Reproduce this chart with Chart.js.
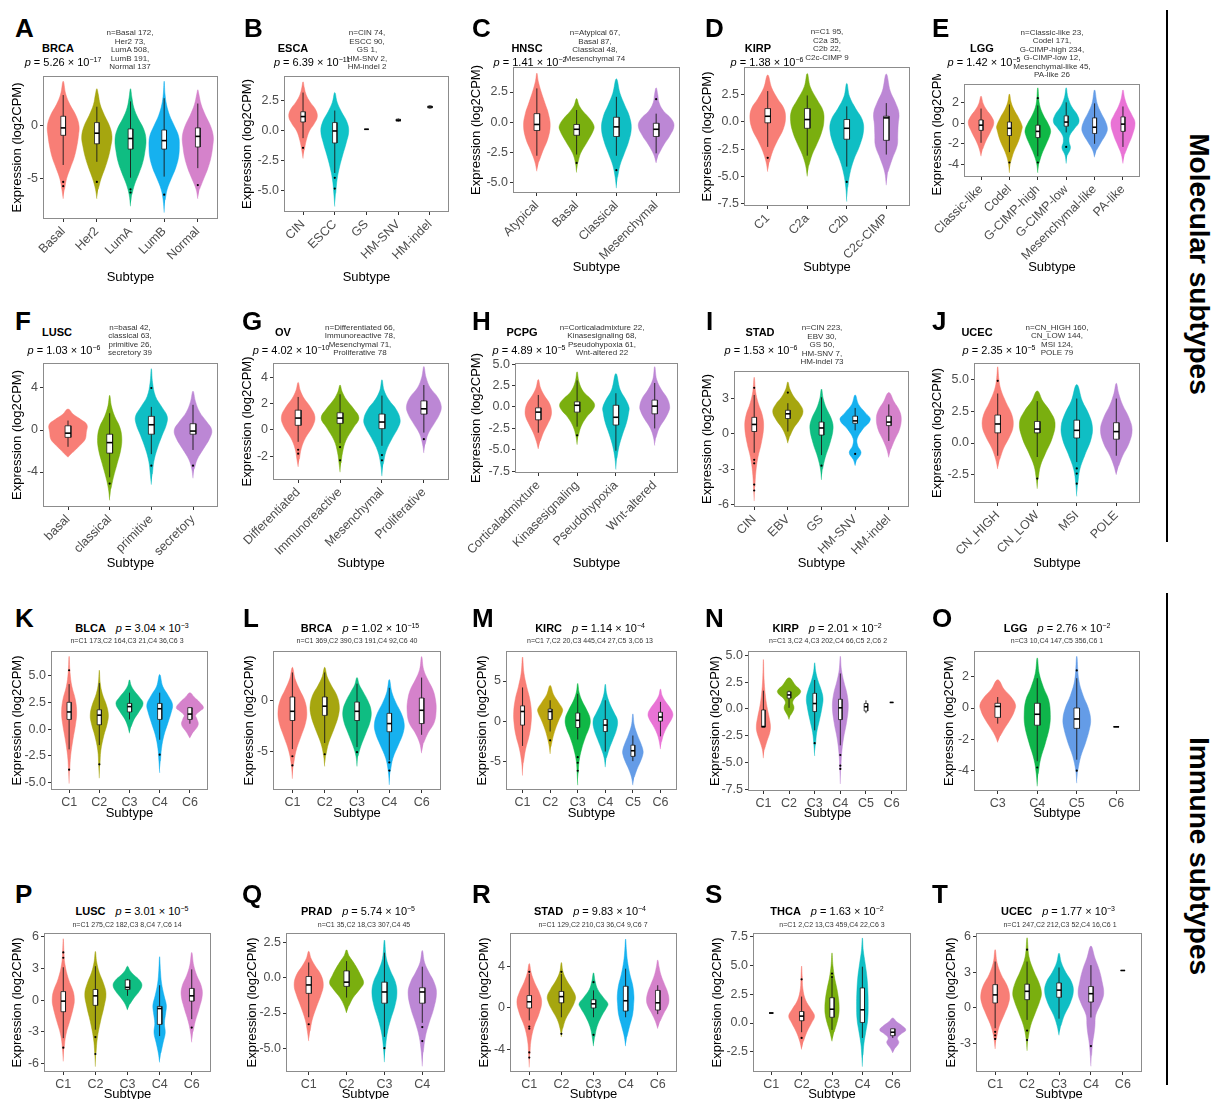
<!DOCTYPE html>
<html lang="en">
<head>
<meta charset="UTF-8">
<title>Expression by subtype</title>
<script src="https://cdn.jsdelivr.net/npm/chart.js"></script>
<style>
  body { margin: 0; background: #fff; font-family: "Liberation Sans", Arial, sans-serif; }
  #fig { position: relative; width: 1212px; height: 1099px; overflow: hidden; }
  canvas { position: absolute; }
  .lab { position: absolute; transform: translate(-50%, -50%); white-space: nowrap; color: #000; z-index: 2; }
  .letter { position: absolute; font-weight: bold; font-size: 26px; line-height: 26px; z-index: 2; }
  .nm { font-weight: bold; font-size: 11px; }
  .pv { font-size: 11px; }
  sup { font-size: 7px; line-height: 0; vertical-align: 4px; }
  .nb { font-size: 8px; line-height: 8.5px; text-align: center; color: #333; }
  .n1 { font-size: 7px; color: #333; }
  .vline { position: absolute; left: 1166px; width: 2px; background: #000; }
  .side { position: absolute; font-weight: bold; font-size: 28px; white-space: nowrap;
          transform: translate(-50%, -50%) rotate(90deg); }
</style>
</head>
<body>
<div id="fig"></div>

<script>
// ---------- data: categories, boxes [whiskerLo, q1, median, q3, whiskerHi],
// violin outlines [value, full width], outliers, y ticks ----------

const A_cats = ['Basal', 'Her2', 'LumA', 'LumB', 'Normal'];
const A_box = [[-3.7,-0.9,-0.2,0.9,2.9], [-3.4,-1.7,-0.7,0.3,1.8], [-4.9,-2.2,-1.2,-0.3,2.3], [-4.8,-2.2,-1.4,-0.4,2.6], [-4.0,-2.0,-1.0,-0.2,2.1]];
const A_vio = [
  [[-6.9,0],[-6,.08],[-5,.2],[-4,.42],[-3,.65],[-2,.8],[-1,.9],[0,.94],[1,.75],[2,.4],[3,.15],[4.2,0]],
  [[-6.9,0],[-6,.08],[-5,.25],[-4,.48],[-3,.68],[-2,.82],[-1,.9],[0,.75],[1,.45],[2,.2],[3,.08],[3.5,0]],
  [[-7.6,0],[-6.5,.08],[-5.5,.25],[-4.5,.5],[-3.5,.72],[-2.5,.85],[-1.3,.92],[-0.3,.78],[0.7,.45],[1.7,.2],[2.7,.08],[3.5,0]],
  [[-8.2,0],[-7,.06],[-6,.18],[-5,.42],[-4,.68],[-3,.85],[-2,.9],[-1,.86],[0,.6],[1,.32],[2,.14],[3,.05],[4.2,0]],
  [[-6.9,0],[-6,.1],[-5,.35],[-4,.6],[-3,.78],[-2,.88],[-1,.92],[0,.75],[1,.45],[2,.2],[3,.06],[3.4,0]]];
const A_out = [[-5.3,-5.7], [-5.3], [-6.0,-6.3], [-6.5], [-5.6]];
const A_yt = [-5, 0];

const B_cats = ['CIN', 'ESCC', 'GS', 'HM-SNV', 'HM-indel'];
const B_box = [[-0.6,0.75,1.2,1.6,3.2], [-3.5,-1.0,0,0.7,1.7], [0.14,0.14,0.14,0.14,0.14], [0.75,0.82,0.9,0.98,1.05], [1.85,1.92,2.0,2.08,2.15]];
const B_vio = [
  [[-2.3,0],[-1.6,.08],[-0.8,.2],[0,.4],[0.6,.7],[1.2,.9],[1.8,.78],[2.4,.45],[3,.2],[3.6,.08],[4.1,0]],
  [[-6.3,0],[-5.2,.06],[-4,.15],[-3,.3],[-2,.5],[-1,.72],[0,.88],[0.8,.75],[1.6,.42],[2.4,.15],[3.2,0]],
  null, null, null];
const B_out = [[-1.4], [-3.9,-4.8], [], [], []];
const B_yt = [-5, -2.5, 0, 2.5];

const C_cats = ['Atypical', 'Basal', 'Classical', 'Mesenchymal'];
const C_box = [[-2.8,-0.7,-0.2,0.7,2.8], [-2.7,-1.1,-0.6,-0.2,1.0], [-2.8,-1.2,-0.4,0.4,2.1], [-2.6,-1.2,-0.6,-0.1,0.7]];
const C_vio = [
  [[-4.1,0],[-3.3,.1],[-2.4,.3],[-1.4,.55],[-0.3,.67],[0.7,.58],[1.6,.4],[2.6,.2],[3.4,.07],[4.07,0]],
  [[-4.2,0],[-3.4,.06],[-2.6,.2],[-1.6,.55],[-0.7,.84],[-0.3,.87],[0.3,.65],[0.9,.32],[1.4,.12],[1.95,0]],
  [[-5.5,0],[-4.6,.06],[-3.6,.18],[-2.6,.4],[-1.6,.62],[-0.5,.75],[0.5,.65],[1.4,.42],[2.4,.18],[3.6,0]],
  [[-3.4,0],[-2.7,.12],[-1.9,.38],[-1.1,.7],[-0.3,.9],[0.3,.75],[0.9,.38],[1.6,.15],[2.3,.08],[2.85,0]]];
const C_out = [[], [-3.4], [-4.0], [1.9]];
const C_yt = [-5, -2.5, 0, 2.5];

const D_cats = ['C1', 'C2a', 'C2b', 'C2c-CIMP'];
const D_box = [[-2.3,-0.1,0.5,1.2,2.8], [-3.1,-0.6,0.2,1.2,2.4], [-4.1,-1.6,-0.6,0.2,1.4], [-3.0,-1.7,0.35,0.5,1.7]];
const D_vio = [
  [[-4.57,0],[-3.7,.08],[-2.7,.25],[-1.7,.5],[-0.7,.78],[0.3,.9],[1.2,.82],[2.1,.5],[3.1,.2],[4.27,0]],
  [[-5,0],[-4,.08],[-3,.25],[-2,.5],[-1,.72],[0,.84],[1,.8],[2,.5],[3.2,.15],[4.4,0]],
  [[-7.3,0],[-6,.05],[-4.8,.15],[-3.5,.35],[-2.2,.65],[-0.8,.85],[0.2,.78],[1.2,.45],[2.3,.14],[3.5,0]],
  [[-5.8,0],[-4.6,.08],[-3.4,.3],[-2.2,.55],[-1.2,.58],[-0.3,.6],[0.8,.64],[1.8,.45],[2.8,.2],[4.36,0]]];
const D_out = [[-3.3], [], [-5.5], []];
const D_yt = [-7.5, -5, -2.5, 0, 2.5];

const E_cats = ['Classic-like', 'Codel', 'G-CIMP-high', 'G-CIMP-low', 'Mesenchymal-like', 'PA-like'];
const E_box = [[-1.9,-0.7,-0.2,0.3,1.4], [-2.8,-1.2,-0.5,0.1,1.8], [-3.2,-1.4,-0.8,-0.2,1.7], [-0.9,-0.3,0.1,0.7,2.0], [-2.0,-1.0,-0.4,0.5,1.9], [-2.3,-0.8,-0.1,0.6,1.6]];
const E_vio = [
  [[-3.2,0],[-2.5,.12],[-1.7,.35],[-0.8,.68],[0,.9],[0.6,.75],[1.3,.38],[1.9,.15],[2.6,0]],
  [[-4.8,0],[-3.8,.08],[-2.8,.3],[-1.7,.65],[-0.6,.88],[-0.3,.9],[0.5,.65],[1.3,.32],[2,.12],[2.8,0]],
  [[-4.8,0],[-3.9,.08],[-3,.28],[-2,.6],[-1.2,.84],[-0.7,.9],[0,.7],[0.8,.38],[1.8,.12],[3.4,0]],
  [[-3.9,0],[-3.1,.08],[-2.4,.3],[-1.8,.2],[-1.2,.25],[-0.5,.6],[0.1,.9],[0.8,.78],[1.6,.38],[2.5,.12],[3.4,0]],
  [[-3.3,0],[-2.6,.14],[-1.8,.48],[-1,.82],[-0.5,.9],[0.2,.75],[1,.45],[1.9,.18],[3.2,0]],
  [[-3.9,0],[-3,.12],[-2.2,.35],[-1.2,.65],[0,.85],[0.8,.62],[1.6,.32],[2.4,.12],[3.2,0]]];
const E_out = [[], [-3.8], [-3.8,2.4], [-2.3], [], []];
const E_yt = [-4, -2, 0, 2];

const F_cats = ['basal', 'classical', 'primitive', 'secretory'];
const F_box = [[-1.6,-0.7,-0.3,0.4,0.9], [-4.5,-2.2,-1.2,-0.4,1.6], [-2.3,-0.4,0.5,1.3,2.2], [-1.9,-0.4,-0.1,0.6,2.4]];
const F_vio = [
  [[-2.6,0],[-2.1,.25],[-1.5,.55],[-0.9,.82],[-0.2,.88],[0.5,.91],[1.0,.62],[1.5,.25],[2.0,0]],
  [[-6.7,0],[-5.6,.06],[-4.5,.18],[-3.2,.36],[-1.8,.54],[-0.7,.58],[0.3,.48],[1.3,.24],[2.3,.08],[3.3,0]],
  [[-5.2,0],[-4.2,.05],[-3,.12],[-1.8,.28],[-0.5,.52],[0.5,.72],[1.3,.76],[2.2,.5],[3.2,.2],[4.5,.06],[5.84,0]],
  [[-4.6,0],[-3.7,.06],[-2.8,.2],[-1.8,.5],[-0.8,.8],[0,.9],[0.8,.65],[1.7,.32],[2.7,.12],[3.7,0]]];
const F_out = [[], [-5.1], [-3.4,4.0], [-3.4]];
const F_yt = [-4, 0, 4];

const G_cats = ['Differentiated', 'Immunoreactive', 'Mesenchymal', 'Proliferative'];
const G_box = [[-0.9,0.35,0.9,1.5,2.5], [-1.0,0.5,0.9,1.3,2.7], [-1.2,0.1,0.6,1.2,2.6], [-0.2,1.2,1.6,2.2,3.4]];
const G_vio = [
  [[-2.8,0],[-2.2,.06],[-1.4,.15],[-0.6,.35],[0.3,.7],[1,.8],[1.7,.6],[2.4,.28],[3,.1],[3.6,0]],
  [[-3.2,0],[-2.5,.05],[-1.7,.12],[-0.8,.28],[0.2,.65],[0.9,.9],[1.6,.65],[2.3,.3],[2.9,.1],[3.4,0]],
  [[-3.5,0],[-2.6,.06],[-1.6,.2],[-0.6,.5],[0.2,.78],[0.75,.87],[1.5,.7],[2.3,.32],[3,.1],[3.8,0]],
  [[-1.75,0],[-1.1,.06],[-0.3,.2],[0.5,.5],[1.2,.75],[1.8,.83],[2.5,.65],[3.2,.3],[4,.1],[4.8,0]]];
const G_out = [[-1.5,-1.8], [-1.3,-2.3], [-1.9,-2.3], [-0.7]];
const G_yt = [-2, 0, 2, 4];

const H_cats = ['Corticaladmixture', 'Kinasesignaling', 'Pseudohypoxia', 'Wnt-altered'];
const H_box = [[-3.0,-1.5,-0.6,-0.1,1.4], [-2.3,-0.6,0.2,0.6,3.1], [-5.1,-2.1,-1.2,0.2,1.6], [-2.5,-0.8,0.1,0.8,2.8]];
const H_vio = [
  [[-4.9,0],[-4,.1],[-3,.26],[-2,.48],[-1.2,.64],[-0.5,.68],[0.4,.58],[1.3,.32],[2.2,.12],[3.2,0]],
  [[-4.4,0],[-3.4,.06],[-2.3,.2],[-1.2,.48],[-0.3,.82],[0.3,.9],[0.9,.72],[1.8,.32],[2.9,.1],[4.1,0]],
  [[-7.3,0],[-6,.05],[-4.6,.16],[-3.2,.34],[-1.8,.55],[-0.6,.66],[-0.1,.68],[0.8,.52],[2,.22],[3.9,0]],
  [[-4.5,0],[-3.6,.06],[-2.5,.22],[-1.3,.55],[-0.4,.74],[0.1,.77],[1,.65],[2,.35],[3.2,.1],[4.7,0]]];
const H_out = [[], [-3.3], [], []];
const H_yt = [-7.5, -5, -2.5, 0, 2.5, 5];

const I_cats = ['CIN', 'EBV', 'GS', 'HM-SNV', 'HM-indel'];
const I_box = [[-1.6,0.2,0.8,1.4,3.3], [0.2,1.3,1.7,2.0,2.6], [-1.8,-0.1,0.5,1.0,3.1], [0.3,0.9,1.1,1.5,2.2], [-0.6,0.7,1.0,1.5,2.5]];
const I_vio = [
  [[-5.7,0],[-4.5,.04],[-3.2,.1],[-2,.22],[-0.8,.42],[0.6,.56],[1.6,.48],[2.6,.24],[3.6,.08],[4.8,0]],
  [[-0.8,0],[-0.2,.12],[0.5,.35],[1.2,.7],[1.9,.9],[2.5,.72],[3.1,.38],[3.8,.12],[4.4,0]],
  [[-3.9,0],[-3,.06],[-2,.22],[-0.8,.5],[0.5,.69],[1.3,.58],[2.2,.28],[3,.1],[3.8,0]],
  [[-2.7,0],[-2.2,.1],[-1.6,.35],[-1.0,.15],[-0.4,.12],[0.4,.45],[1.2,.9],[1.8,.6],[2.5,.2],[3.3,0]],
  [[-2,0],[-1.3,.12],[-0.5,.35],[0.4,.64],[1.3,.74],[2,.62],[2.7,.32],[3.5,0]]];
const I_out = [[-2.2,-2.5,-4.3,-4.8,3.9], [3.5], [-2.7], [-1.7], []];
const I_yt = [-6, -3, 0, 3];

const J_cats = ['CN_HIGH', 'CN_LOW', 'MSI', 'POLE'];
const J_box = [[-1.0,0.8,1.5,2.2,3.9], [-1.1,0.8,1.1,1.7,3.3], [-1.5,0.4,1.0,1.8,3.5], [-1.0,0.3,0.9,1.6,3.5]];
const J_vio = [
  [[-2.05,0],[-1.3,.1],[-0.4,.3],[0.5,.6],[1.3,.78],[2.2,.72],[3.2,.42],[4.2,.16],[5,.06],[6,0]],
  [[-3.6,0],[-2.8,.05],[-1.8,.16],[-0.8,.42],[0.4,.76],[1.6,.9],[2.5,.65],[3.3,.28],[4.1,0]],
  [[-4.2,0],[-3.2,.05],[-2.1,.15],[-0.9,.42],[0.3,.72],[1.3,.79],[2.3,.6],[3.3,.28],[4.6,0]],
  [[-2.5,0],[-1.8,.12],[-1,.32],[0,.65],[1.05,.8],[2,.64],[3,.32],[3.9,.12],[4.7,0]]];
const J_out = [[4.9], [-2.8], [-2.0,-2.4,-3.2], []];
const J_yt = [-2.5, 0, 2.5, 5];

const K_cats = ['C1', 'C2', 'C3', 'C4', 'C6'];
const K_box = [[-1.9,0.9,1.6,2.5,4.2], [-1.5,0.4,1.3,1.8,4.3], [0.9,1.6,2.1,2.4,3.4], [-1.0,0.9,1.9,2.4,3.4], [0.5,0.9,1.4,2.0,2.0]];
const K_vio = [
  [[-5.1,0],[-3.8,.04],[-2.5,.1],[-1,.25],[0.4,.42],[1.5,.5],[2.7,.42],[4,.18],[5.3,.06],[6.8,0]],
  [[-4.6,0],[-3.4,.04],[-2,.1],[-0.6,.3],[0.5,.52],[1.3,.6],[2.2,.48],[3.3,.2],[4.3,.06],[5.5,0]],
  [[-0.4,0],[0.2,.1],[0.9,.3],[1.6,.62],[2.4,.9],[3,.65],[3.6,.3],[4.1,.1],[4.6,0]],
  [[-4.1,0],[-3,.05],[-1.8,.12],[-0.6,.28],[0.6,.55],[1.5,.75],[2.3,.85],[3.1,.58],[4,.2],[5.1,0]],
  [[-0.85,0],[-0.3,.22],[0.4,.55],[1,.45],[1.3,.38],[1.7,.68],[2.0,.9],[2.5,.65],[3,.28],[3.4,0]]];
const K_out = [[5.5,-3.8], [-3.3], [], [-2.4], []];
const K_yt = [-5, -2.5, 0, 2.5, 5];

const L_cats = ['C1', 'C2', 'C3', 'C4', 'C6'];
const L_box = [[-4.8,-2.0,-1.1,0.3,2.7], [-4.2,-1.5,-0.6,0.3,2.7], [-4.6,-2.0,-1.1,-0.2,1.6], [-5.9,-3.1,-2.3,-1.3,1.2], [-3.4,-2.3,-1.0,0.2,2.2]];
const L_vio = [
  [[-7.7,0],[-6.4,.06],[-5,.22],[-3.6,.52],[-2.2,.82],[-1.1,.89],[0,.75],[1,.45],[2.1,.16],[3.2,0]],
  [[-6.5,0],[-5.4,.07],[-4.2,.24],[-2.8,.58],[-1.5,.85],[-0.5,.9],[0.5,.74],[1.4,.42],[2.3,.15],[3.2,0]],
  [[-6.5,0],[-5.5,.06],[-4.5,.24],[-3.2,.56],[-2,.83],[-1,.87],[-0.1,.68],[0.8,.38],[1.5,.14],[2.2,0]],
  [[-8.3,0],[-7,.06],[-5.7,.22],[-4.4,.56],[-3.2,.86],[-2.3,.92],[-1.3,.74],[-0.3,.42],[0.8,.15],[2,0]],
  [[-5.2,0],[-4.2,.12],[-3.2,.4],[-2.2,.78],[-1,.9],[0,.86],[1,.7],[2,.38],[3,.12],[4.25,0]]];
const L_out = [[-5.5,-6.4], [-5.3], [-5.1], [-6.1,-6.9], []];
const L_yt = [-5, 0];

const M_cats = ['C1', 'C2', 'C3', 'C4', 'C5', 'C6'];
const M_box = [[-3.1,-0.5,1.2,1.9,4.2], [-1.3,0.2,1.2,1.5,2.6], [-2.3,-0.8,0.1,1.0,3.4], [-3.8,-1.3,-0.5,0.2,2.6], [-5.0,-4.4,-3.7,-3.0,-1.8], [-1.9,0,0.5,1.1,2.4]];
const M_vio = [
  [[-6.8,0],[-5.2,.06],[-3.5,.22],[-1.8,.48],[-0.2,.62],[1.2,.64],[2.8,.52],[4.3,.3],[6,.1],[8,0]],
  [[-4.1,0],[-3.2,.06],[-2.2,.18],[-1,.38],[0.2,.65],[1,.86],[1.5,.9],[2.3,.62],[3.3,.25],[4.45,0]],
  [[-8,0],[-6.5,.04],[-5,.1],[-3.5,.28],[-2,.56],[-0.7,.85],[0.3,.9],[1.3,.68],[2.5,.32],[3.6,.1],[4.7,0]],
  [[-5.75,0],[-4.6,.08],[-3.5,.28],[-2.3,.55],[-1,.82],[0.1,.88],[1,.65],[2.2,.32],[3.4,.1],[4.6,0]],
  [[-8,0],[-7,.1],[-6,.3],[-5,.56],[-4.2,.72],[-3.7,.74],[-2.8,.58],[-1.7,.32],[-0.5,.1],[0.9,0]],
  [[-3.5,0],[-2.6,.08],[-1.6,.24],[-0.5,.55],[0.3,.82],[0.9,.9],[1.6,.72],[2.4,.38],[3.2,.12],[4,0]]];
const M_out = [[], [-2.4], [-4.5,-5.2,-6.2], [], [], []];
const M_yt = [-5, 0, 5];

const N_cats = ['C1', 'C2', 'C3', 'C4', 'C5', 'C6'];
const N_box = [[-1.7,-1.7,-1.65,-0.1,1.7], [0.1,1.0,1.3,1.6,1.7], [-2.0,-0.25,0.5,1.45,2.7], [-3.4,-1.0,0.1,0.9,3.3], [-0.4,-0.2,0.2,0.5,0.8], [0.6,0.6,0.6,0.6,0.6]];
const N_vio = [
  [[-4.6,0],[-3.8,.08],[-3,.28],[-2.2,.5],[-1.6,.55],[-0.8,.45],[0.2,.28],[1.4,.14],[2.8,.05],[4.6,0]],
  [[-1,0],[-0.6,.12],[-0.1,.35],[0.2,.38],[0.6,.28],[1.0,.45],[1.4,.82],[1.7,.9],[2.2,.5],[2.9,0]],
  [[-4.4,0],[-3.4,.06],[-2.2,.16],[-1,.38],[0.2,.58],[1,.65],[1.8,.5],[2.7,.24],[3.5,.08],[4.3,0]],
  [[-7,0],[-5.6,.04],[-4.2,.1],[-2.8,.24],[-1.3,.48],[0.2,.62],[1.4,.52],[2.6,.26],[3.7,.08],[4.9,0]],
  null, null];
const N_out = [[], [], [-3.2], [-4.3,-5.3,-5.6], [], []];
const N_yt = [-7.5, -5, -2.5, 0, 2.5, 5];

const O_cats = ['C3', 'C4', 'C5', 'C6'];
const O_box = [[-1.0,-0.6,0.1,0.3,0.7], [-3.4,-1.1,-0.4,0.3,1.9], [-3.3,-1.3,-0.7,0,1.9], [-1.2,-1.2,-1.2,-1.2,-1.2]];
const O_vio = [
  [[-2.2,0],[-1.8,.12],[-1.3,.35],[-0.7,.65],[-0.2,.84],[0.2,.9],[0.7,.68],[1.2,.32],[1.8,0]],
  [[-5,0],[-4.2,.05],[-3.3,.16],[-2.2,.42],[-1.2,.62],[-0.4,.66],[0.5,.58],[1.3,.32],[2.2,.1],[3.2,0]],
  [[-4.8,0],[-4,.05],[-3.1,.2],[-2.2,.45],[-1.3,.65],[-0.7,.7],[0,.58],[0.8,.32],[1.8,.1],[3.3,0]],
  null];
const O_out = [[], [-3.8], [2.4,-4.0], []];
const O_yt = [-4, -2, 0, 2];

const P_cats = ['C1', 'C2', 'C3', 'C4', 'C6'];
const P_box = [[-3.6,-1.1,-0.1,0.8,3.1], [-2.8,-0.5,0.4,1.0,3.2], [0.4,1.0,1.2,1.9,2.0], [-3.4,-2.3,-0.8,-0.6,1.4], [-1.8,-0.1,0.4,1.1,2.9]];
const P_vio = [
  [[-5.8,0],[-4.6,.05],[-3.3,.16],[-1.8,.44],[-0.6,.64],[0,.69],[0.8,.62],[2,.32],[3.4,.1],[4.6,.04],[5.8,0]],
  [[-6.3,0],[-5,.04],[-3.6,.12],[-2,.32],[-0.6,.54],[0.6,.66],[1.6,.5],[2.6,.24],[3.6,.08],[4.6,0]],
  [[-0.95,0],[-0.4,.14],[0.2,.4],[0.8,.72],[1.4,.9],[1.9,.74],[2.4,.38],[2.8,.15],[3.2,0]],
  [[-5.9,0],[-5,.08],[-4,.22],[-3.1,.35],[-2.2,.3],[-1.2,.38],[-0.5,.42],[0.4,.28],[1.6,.12],[2.8,.05],[4.1,0]],
  [[-4,0],[-3,.08],[-2,.22],[-0.8,.46],[0.5,.66],[1.4,.58],[2.3,.32],[3.3,.12],[4.5,0]]];
const P_out = [[4.5,4.0,-4.5], [-3.5,-5.1], [], [], [-2.6]];
const P_yt = [-6, -3, 0, 3, 6];

const Q_cats = ['C1', 'C2', 'C3', 'C4'];
const Q_box = [[-2.8,-1.1,-0.5,0.1,1.1], [-1.4,-0.6,-0.3,0.5,1.2], [-4.2,-1.8,-1.0,-0.3,1.8], [-3.2,-1.8,-1.0,-0.7,0.8]];
const Q_vio = [
  [[-4.5,0],[-3.8,.07],[-3,.18],[-2.1,.4],[-1.2,.65],[-0.5,.77],[0.2,.65],[0.9,.32],[1.4,.12],[1.9,0]],
  [[-2.5,0],[-2,.12],[-1.4,.35],[-0.8,.7],[-0.35,.9],[0.2,.74],[0.7,.55],[1.2,.32],[1.6,.12],[2.0,0]],
  [[-6,0],[-5,.05],[-4,.14],[-3,.32],[-2,.55],[-1.1,.66],[-0.3,.58],[0.5,.32],[1.4,.1],[2.7,0]],
  [[-6.3,0],[-5.3,.05],[-4.2,.16],[-3.2,.36],[-2.2,.6],[-1.05,.75],[-0.3,.62],[0.4,.35],[1.1,.12],[1.95,0]]];
const Q_out = [[-3.3], [], [-5.0], [-3.5,-4.5]];
const Q_yt = [-5, -2.5, 0, 2.5];

const R_cats = ['C1', 'C2', 'C3', 'C4', 'C6'];
const R_box = [[-1.2,0,0.6,1.2,3.3], [-0.9,0.5,1.1,1.6,3.3], [-0.9,0,0.4,0.8,1.7], [-0.9,-0.3,0.7,2.1,3.8], [-0.6,-0.2,0.5,1.7,2.2]];
const R_vio = [
  [[-5.75,0],[-4.5,.04],[-3.2,.1],[-1.8,.3],[-0.5,.62],[0.6,.77],[1.5,.62],[2.5,.32],[3.4,.12],[4.3,0]],
  [[-2.8,0],[-2,.08],[-1.1,.26],[-0.2,.58],[0.5,.8],[1.1,.88],[1.8,.68],[2.7,.32],[3.5,.1],[4.4,0]],
  [[-3.7,0],[-2.8,.08],[-1.8,.22],[-0.8,.5],[0,.8],[0.4,.9],[1,.62],[1.8,.26],[2.6,.1],[3.4,0]],
  [[-3.7,0],[-2.8,.08],[-1.8,.24],[-0.6,.44],[0.4,.5],[1.1,.52],[2.2,.44],[3.3,.26],[4.5,.12],[5.6,.05],[6.67,0]],
  [[-2,0],[-1.3,.14],[-0.5,.38],[0.2,.62],[0.75,.7],[1.5,.62],[2.3,.42],[3.2,.2],[4,.08],[4.65,0]]];
const R_out = [[-1.8,-2.0,-4.3,-4.8,3.5], [-2.5,3.5], [-2.6,2.5], [], []];
const R_yt = [-4, 0, 4];

const S_cats = ['C1', 'C2', 'C3', 'C4', 'C6'];
const S_box = [[0.87,0.87,0.87,0.87,0.87], [-0.8,0.2,0.6,1.0,2.3], [-0.6,0.5,1.2,2.2,3.9], [-1.3,0.05,1.15,3.05,4.9], [-1.3,-1.1,-0.8,-0.5,-0.5]];
const S_vio = [
  null,
  [[-2.3,0],[-1.6,.12],[-0.8,.34],[0,.65],[0.6,.85],[1.2,.62],[2,.26],[3,.08],[4,.04],[4.95,0]],
  [[-1.6,0],[-0.8,.14],[0,.32],[0.7,.44],[1.2,.47],[2,.44],[3,.32],[4,.16],[5,.06],[6.1,0]],
  [[-3.8,0],[-2.8,.04],[-1.8,.1],[-0.8,.22],[0.3,.35],[1.5,.38],[2.8,.36],[4,.3],[5.2,.18],[6.3,.06],[7.4,0]],
  [[-2.6,0],[-2.2,.15],[-1.7,.4],[-1.3,.3],[-0.9,.6],[-0.6,.86],[-0.2,.58],[0.1,.26],[0.44,0]]];
const S_out = [[], [3.8,-1.3], [4.0,4.3], [], []];
const S_yt = [-2.5, 0, 2.5, 5, 7.5];

const T_cats = ['C1', 'C2', 'C3', 'C4', 'C6'];
const T_box = [[-1.7,0.42,1.1,1.96,3.9], [-1.0,0.7,1.4,2.0,3.9], [-0.9,0.9,1.5,2.1,3.4], [-0.8,0.5,1.2,1.8,3.6], [3.15,3.15,3.15,3.15,3.15]];
const T_vio = [
  [[-3.45,0],[-2.6,.07],[-1.6,.24],[-0.5,.58],[0.4,.84],[1.1,.9],[1.9,.74],[2.8,.38],[3.8,.12],[4.9,0]],
  [[-3.6,0],[-2.6,.06],[-1.5,.22],[-0.4,.52],[0.6,.8],[1.26,.9],[2.1,.75],[3.1,.42],[4.3,.12],[5.9,0]],
  [[-2.3,0],[-1.5,.12],[-0.6,.34],[0.4,.7],[1.4,.9],[2.2,.78],[3,.42],[3.8,.15],[4.6,0]],
  [[-4.9,0],[-4,.04],[-3,.1],[-2.1,.2],[-1.5,.25],[-0.6,.3],[0.4,.62],[1.2,.8],[2.2,.7],[3.2,.52],[4.2,.25],[5.2,0]],
  null];
const T_out = [[-2.0,-2.3,-2.6], [-1.9,-2.7,4.9], [], [-3.2], []];
const T_yt = [-3, 0, 3, 6];

// titles and sample sizes
const names = ['BRCA','ESCA','HNSC','KIRP','LGG','LUSC','OV','PCPG','STAD','UCEC',
               'BLCA','BRCA','KIRC','KIRP','LGG','LUSC','PRAD','STAD','THCA','UCEC'];
const pMant = ['5.26','6.39','1.41','1.38','1.42','1.03','4.02','4.89','1.53','2.35',
               '3.04','1.02','1.14','2.01','2.76','3.01','5.74','9.83','1.63','1.77'];
const pExp = ['17','11','2','6','5','6','10','5','6','5','3','15','4','2','2','5','5','4','2','3'];
const nText = [
  ['n=Basal 172,','Her2 73,','LumA 508,','LumB 191,','Normal 137'],
  ['n=CIN 74,','ESCC 90,','GS 1,','HM-SNV 2,','HM-indel 2'],
  ['n=Atypical 67,','Basal 87,','Classical 48,','Mesenchymal 74'],
  ['n=C1 95,','C2a 35,','C2b 22,','C2c-CIMP 9'],
  ['n=Classic-like 23,','Codel 171,','G-CIMP-high 234,','G-CIMP-low 12,','Mesenchymal-like 45,','PA-like 26'],
  ['n=basal 42,','classical 63,','primitive 26,','secretory 39'],
  ['n=Differentiated 66,','Immunoreactive 78,','Mesenchymal 71,','Proliferative 78'],
  ['n=Corticaladmixture 22,','Kinasesignaling 68,','Pseudohypoxia 61,','Wnt-altered 22'],
  ['n=CIN 223,','EBV 30,','GS 50,','HM-SNV 7,','HM-indel 73'],
  ['n=CN_HIGH 160,','CN_LOW 144,','MSI 124,','POLE 79'],
  ['n=C1 173,C2 164,C3 21,C4 36,C6 3'],
  ['n=C1 369,C2 390,C3 191,C4 92,C6 40'],
  ['n=C1 7,C2 20,C3 445,C4 27,C5 3,C6 13'],
  ['n=C1 3,C2 4,C3 202,C4 66,C5 2,C6 2'],
  ['n=C3 10,C4 147,C5 356,C6 1'],
  ['n=C1 275,C2 182,C3 8,C4 7,C6 14'],
  ['n=C1 35,C2 18,C3 307,C4 45'],
  ['n=C1 129,C2 210,C3 36,C4 9,C6 7'],
  ['n=C1 2,C2 13,C3 459,C4 22,C6 3'],
  ['n=C1 247,C2 212,C3 52,C4 16,C6 1']];

// ---------- layout ----------
const pal = {
  2: ['#F8766D', '#00BFC4'],
  3: ['#F8766D', '#00B040', '#5A96E6'],
  4: ['#F8766D', '#72AA00', '#00BAC0', '#B880D2'],
  5: ['#F8766D', '#A0A000', '#00B97A', '#07ACEE', '#D27AC8'],
  6: ['#F8766D', '#B79F00', '#00B43A', '#00BAC0', '#5A96E6', '#E86AD2']
};

const panels = [
  {id:'A', cats:A_cats, box:A_box, vio:A_vio, out:A_out, yt:A_yt, plot:[43,76,218,219], ytx:18, sub:277, y:[-8.8,4.7], dec:0, lt:[15,37], nm:[58,48], pv:[63,62], nb:[130,50]},
  {id:'B', cats:B_cats, box:B_box, vio:B_vio, out:B_out, yt:B_yt, plot:[284,76,449,212], ytx:248, sub:277, y:[-6.75,4.58], dec:1, lt:[244,37], nm:[293,48], pv:[312,62], nb:[367,50]},
  {id:'C', cats:C_cats, box:C_box, vio:C_vio, out:C_out, yt:C_yt, plot:[513,67,680,193], ytx:477, sub:267, y:[-5.9,4.58], dec:1, lt:[472,37], nm:[527,48], pv:[530,62], nb:[595,46]},
  {id:'D', cats:D_cats, box:D_box, vio:D_vio, out:D_out, yt:D_yt, plot:[744,67,910,206], ytx:708, sub:267, y:[-7.7,5.0], dec:1, lt:[705,37], nm:[758,48], pv:[767,62], nb:[827,45]},
  {id:'E', cats:E_cats, box:E_box, vio:E_vio, out:E_out, yt:E_yt, plot:[964,84,1140,177], ytx:938, sub:267, y:[-5.2,3.77], dec:0, lt:[932,37], nm:[982,48], pv:[984,62], nb:[1052,53.5]},
  {id:'F', cats:F_cats, box:F_box, vio:F_vio, out:F_out, yt:F_yt, plot:[43,363,218,507], ytx:18, sub:563, y:[-7.33,6.38], dec:0, lt:[15,330], nm:[57,332], pv:[64,350], nb:[130,340.5]},
  {id:'G', cats:G_cats, box:G_box, vio:G_vio, out:G_out, yt:G_yt, plot:[273,363,449,480], ytx:248, sub:563, y:[-3.79,5.07], dec:0, lt:[242,330], nm:[283,332], pv:[291,350], nb:[360,340.5]},
  {id:'H', cats:H_cats, box:H_box, vio:H_vio, out:H_out, yt:H_yt, plot:[515,363,678,473], ytx:477, sub:563, y:[-7.7,5.13], dec:1, lt:[472,330], nm:[522,332], pv:[529,350], nb:[602,340.5]},
  {id:'I', cats:I_cats, box:I_box, vio:I_vio, out:I_out, yt:I_yt, plot:[734,371,909,507], ytx:708, sub:563, y:[-6.2,5.33], dec:0, lt:[706,330], nm:[760,332], pv:[761,350], nb:[822,345]},
  {id:'J', cats:J_cats, box:J_box, vio:J_vio, out:J_out, yt:J_yt, plot:[974,363,1140,503], ytx:938, sub:563, y:[-4.72,6.3], dec:1, lt:[932,330], nm:[977,332], pv:[999,350], nb:[1057,340.5]},
  {id:'K', cats:K_cats, box:K_box, vio:K_vio, out:K_out, yt:K_yt, plot:[51,651,208,790], ytx:18, sub:813, y:[-5.7,7.3], dec:1, lt:[15,627], ti:[132,627], nb:[127,640]},
  {id:'L', cats:L_cats, box:L_box, vio:L_vio, out:L_out, yt:L_yt, plot:[273,651,441,790], ytx:250, sub:813, y:[-8.8,4.8], dec:0, lt:[243,627], ti:[360,627], nb:[357,640]},
  {id:'M', cats:M_cats, box:M_box, vio:M_vio, out:M_out, yt:M_yt, plot:[506,651,677,790], ytx:483, sub:813, y:[-8.6,8.75], dec:0, lt:[472,627], ti:[590,627], nb:[590,640]},
  {id:'N', cats:N_cats, box:N_box, vio:N_vio, out:N_out, yt:N_yt, plot:[748,651,907,791], ytx:716, sub:813, y:[-7.66,5.4], dec:1, lt:[705,627], ti:[827,627], nb:[828,640]},
  {id:'O', cats:O_cats, box:O_box, vio:O_vio, out:O_out, yt:O_yt, plot:[974,651,1140,791], ytx:950, sub:813, y:[-5.3,3.64], dec:0, lt:[932,627], ti:[1057,627], nb:[1057,640]},
  {id:'P', cats:P_cats, box:P_box, vio:P_vio, out:P_out, yt:P_yt, plot:[44,933,211,1072], ytx:18, sub:1094, y:[-6.8,6.34], dec:0, lt:[15,903], ti:[132,910], nb:[127,924]},
  {id:'Q', cats:Q_cats, box:Q_box, vio:Q_vio, out:Q_out, yt:Q_yt, plot:[286,933,445,1072], ytx:253, sub:1094, y:[-6.7,3.2], dec:1, lt:[242,903], ti:[358,910], nb:[364,924]},
  {id:'R', cats:R_cats, box:R_box, vio:R_vio, out:R_out, yt:R_yt, plot:[510,933,677,1072], ytx:485, sub:1094, y:[-6.2,7.26], dec:0, lt:[472,903], ti:[590,910], nb:[593,924]},
  {id:'S', cats:S_cats, box:S_box, vio:S_vio, out:S_out, yt:S_yt, plot:[753,933,911,1072], ytx:718, sub:1094, y:[-4.26,7.83], dec:1, lt:[705,903], ti:[827,910], nb:[832,924]},
  {id:'T', cats:T_cats, box:T_box, vio:T_vio, out:T_out, yt:T_yt, plot:[976,933,1142,1072], ytx:952, sub:1094, y:[-5.38,6.3], dec:0, lt:[932,903], ti:[1058,910], nb:[1060,924]}
];

Chart.defaults.font.family = '"Liberation Sans", Arial, sans-serif';
const fig = document.getElementById('fig');
const BW = 0.07;               // half box width, category units
const PL = 46, PT = 10, PR = 12, PB = 2;

// grey frame round the plot area
const frame = {
  id: 'frame',
  afterDraw(ch) {
    const a = ch.chartArea, g = ch.ctx;
    g.save();
    g.strokeStyle = '#8c8c8c';
    g.lineWidth = 1;
    g.strokeRect(Math.round(a.left) + 0.5, Math.round(a.top) + 0.5, Math.round(a.width) - 1, Math.round(a.height) - 1);
    g.restore();
  }
};

function violinPts(c, v) {
  const left = v.map(([y, w]) => ({x: c - w / 2, y: y}));
  const right = v.slice(1, -1).reverse().map(([y, w]) => ({x: c + w / 2, y: y}));
  return left.concat(right);
}

function makeSets(p) {
  const sets = [];
  const cols = pal[p.vio.filter(v => v).length];
  let k = 0;
  p.cats.forEach((cat, i) => {
    const c = i + 1;
    const v = p.vio[i];
    if (v) {
      const col = cols[k++];
      sets.push({data: violinPts(c, v), showLine: true, fill: 'shape', backgroundColor: col + 'F0',
                 borderColor: col + 'F0', borderWidth: 0.5, pointRadius: 0, tension: 0.4, order: 4});
    }
    const [lo, q1, md, q3, hi] = p.box[i];
    sets.push({data: [{x: c, y: lo}, {x: c, y: hi}], showLine: true, borderColor: '#1a1a1a',
               borderWidth: 0.9, pointRadius: 0, order: 3});
    sets.push({data: [{x: c - BW, y: q1}, {x: c - BW, y: q3}, {x: c + BW, y: q3}, {x: c + BW, y: q1}, {x: c - BW, y: q1}],
               showLine: true, fill: 'shape', backgroundColor: '#ffffff', borderColor: '#1a1a1a',
               borderWidth: 0.8, pointRadius: 0, tension: 0, order: 2});
    sets.push({data: [{x: c - BW, y: md}, {x: c + BW, y: md}], showLine: true, borderColor: '#000',
               borderWidth: 1.6, pointRadius: 0, order: 1});
    if (p.out[i] && p.out[i].length) {
      sets.push({data: p.out[i].map(y => ({x: c, y: y})), pointRadius: 1.1, pointBackgroundColor: '#000',
                 pointBorderWidth: 0, order: 0});
    }
  });
  return sets;
}

function put(x, y, html, cls) {
  const d = document.createElement('div');
  d.className = 'lab ' + cls;
  d.style.left = x + 'px';
  d.style.top = y + 'px';
  d.innerHTML = html;
  fig.appendChild(d);
}

panels.forEach((p, idx) => {
  const [l, t, r, b] = p.plot;
  const rot = p.ti ? 0 : 45;
  const axL = l - (p.ytx - 8);
  const axB = (p.sub + 8) - b;
  const cl = l - axL - PL, ct = t - PT;
  const cv = document.createElement('canvas');
  cv.width = r + PR - cl;
  cv.height = p.sub + 8 + PB - ct;
  cv.style.left = cl + 'px';
  cv.style.top = ct + 'px';
  fig.appendChild(cv);

  new Chart(cv, {
    type: 'scatter',
    data: {datasets: makeSets(p)},
    options: {
      responsive: false, animation: false, events: [], devicePixelRatio: 1,
      layout: {padding: {left: PL, top: PT, right: PR, bottom: PB}},
      plugins: {legend: {display: false}, tooltip: {enabled: false}},
      scales: {
        x: {
          type: 'linear', min: 0.4, max: p.cats.length + 0.6,
          afterBuildTicks: s => { s.ticks = p.cats.map((_, i) => ({value: i + 1})); },
          afterFit: s => { s.height = axB; },
          ticks: {callback: v => p.cats[v - 1], color: '#4d4d4d', font: {size: 12.5},
                  minRotation: rot, maxRotation: rot, autoSkip: false, padding: 2},
          grid: {drawOnChartArea: false, drawTicks: true, tickLength: 3, color: '#333'},
          border: {display: false},
          title: {display: true, text: 'Subtype', color: '#000', font: {size: 13}, padding: 0}
        },
        y: {
          min: p.y[0], max: p.y[1],
          afterBuildTicks: s => { s.ticks = p.yt.map(v => ({value: v})); },
          afterFit: s => { s.width = axL; },
          ticks: {callback: v => v.toFixed(p.dec), color: '#4d4d4d', font: {size: 12.5}, padding: 2},
          grid: {drawOnChartArea: false, drawTicks: true, tickLength: 3, color: '#333'},
          border: {display: false},
          title: {display: true, text: 'Expression (log2CPM)', color: '#000', font: {size: 13}, padding: 0}
        }
      }
    },
    plugins: [frame]
  });

  // panel letter
  const L = document.createElement('div');
  L.className = 'letter';
  L.style.left = p.lt[0] + 'px';
  L.style.top = (p.lt[1] - 22) + 'px';
  L.textContent = p.id;
  fig.appendChild(L);

  const ptxt = '<i>p</i> = ' + pMant[idx] + ' \u00d7 10<sup>\u2212' + pExp[idx] + '</sup>';
  if (p.ti) {
    put(p.ti[0], p.ti[1], '<span class="nm">' + names[idx] + '</span><span class="pv" style="margin-left:10px">' + ptxt + '</span>', '');
    put(p.nb[0], p.nb[1], nText[idx][0], 'n1');
  } else {
    put(p.nm[0], p.nm[1], names[idx], 'nm');
    put(p.pv[0], p.pv[1], ptxt, 'pv');
    put(p.nb[0], p.nb[1], nText[idx].join('<br>'), 'nb');
  }
});

// group brackets on the right
[[10, 542], [593, 1085]].forEach(([a, b]) => {
  const d = document.createElement('div');
  d.className = 'vline';
  d.style.top = a + 'px';
  d.style.height = (b - a) + 'px';
  fig.appendChild(d);
});
put(1199, 264, 'Molecular subtypes', 'side');
put(1199, 856, 'Immune subtypes', 'side');
</script>
</body>
</html>
